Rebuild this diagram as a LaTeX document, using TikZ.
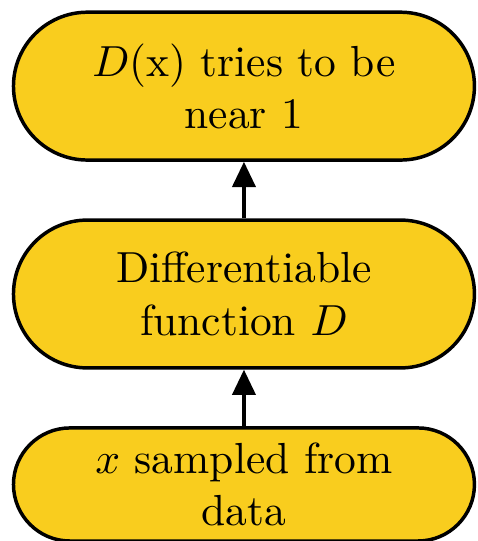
\documentclass[tikz,border=0pt]{standalone}
\usetikzlibrary{positioning,arrows.meta}
\definecolor{stagefill}{RGB}{249,205,30}
\begin{document}
\begin{tikzpicture}[
  stage/.style={draw=black, thick, fill=stagefill, rectangle, rounded corners=17pt,
    minimum width=106pt, minimum height=34pt, text width=90pt, align=center, inner sep=0pt},
  flow/.style={-{Triangle[length=5.8pt,width=5.3pt]}, line width=0.85pt}]
\useasboundingbox (-56.1pt,19.8pt) rectangle (53.6pt,-104.6pt);
\node[stage] (goal) at (0,0) {$D$(x) tries to be\\ near 1};
\node[stage, below=13pt of goal] (disc) {Differentiable\\ function $D$};
\node[stage, below=13pt of disc, minimum height=26pt, rounded corners=13pt] (data) {$x$ sampled from\\ data};
\draw[flow] (data) -- (disc);
\draw[flow] (disc) -- (goal);
\end{tikzpicture}
\end{document}
